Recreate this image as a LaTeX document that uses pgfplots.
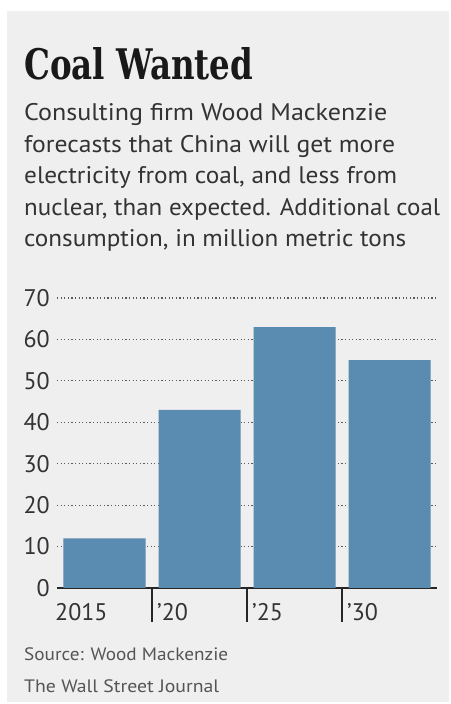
\documentclass[border=0pt]{standalone}
\usepackage{pgfplots}
\pgfplotsset{compat=1.18}
\usepackage{fontspec}
\setmainfont{PT Sans}
\newfontfamily\titlefont{DejaVu Serif}
\definecolor{panel}{HTML}{EFEFEF}
\definecolor{barblue}{HTML}{5A8BB0}
\definecolor{txt}{HTML}{333333}
\definecolor{srctxt}{HTML}{555555}
\begin{document}
\begin{tikzpicture}[x=1pt,y=1pt]
\fill[white] (0,0) rectangle (450,704);
\fill[panel] (7,2) rectangle (449,693);
% title
\node[anchor=base west, inner sep=0pt, text=black!90] at (24,624)
  {\resizebox{229pt}{32pt}{\titlefont\bfseries Coal Wanted}};
% subtitle
\begin{scope}[every node/.style={anchor=base west, inner sep=0pt, text=txt, font=\fontsize{24}{28}\selectfont}]
\node at (24,704-120.7) {\resizebox{363pt}{\height}{Consulting firm Wood Mackenzie}};
\node at (24,704-152.2) {\resizebox{371pt}{\height}{forecasts that China will get more}};
\node at (24,704-183.7) {\resizebox{373pt}{\height}{electricity from coal, and less from}};
\node at (24,704-215.2) {\resizebox{416pt}{\height}{nuclear, than expected. Additional coal}};
\node at (24,704-246.7) {\resizebox{382pt}{\height}{consumption, in million metric tons}};
\end{scope}
% source
\begin{scope}[every node/.style={anchor=base west, inner sep=0pt, text=srctxt, font=\fontsize{18}{22}\selectfont}]
\node at (24,704-661) {\resizebox{204pt}{\height}{Source: Wood Mackenzie}};
\node at (24,704-693) {\resizebox{195pt}{\height}{The Wall Street Journal}};
\end{scope}
\begin{axis}[
  at={(57pt,116pt)}, anchor=south west,
  scale only axis, width=380pt, height=290pt,
  xmin=0, xmax=4, ymin=0, ymax=70,
  axis lines*=left,
  y axis line style={draw=none},
  x axis line style={draw=black!85, line width=1.4pt},
  ytick={0,10,...,70},
  ytick style={draw=none},
  ymajorgrids,
  major grid style={gray!70!black, line width=1.2pt, dash pattern=on 1.2pt off 2.4pt},
  yticklabel style={anchor=east, inner sep=0pt, xshift=27pt, text=txt, font=\fontsize{24}{28}\selectfont},
  xtick={1,2,3}, xticklabels={},
  xtick style={draw=black!85, line width=1.4pt},
  tick align=outside,
  major tick length=34pt,
  extra x ticks={0,1,2,3},
  extra x tick labels={\hspace*{-7pt}2015,'20,'25,'30},
  extra x tick style={major tick length=0pt, xmajorgrids=false,
    xticklabel style={anchor=north west, inner sep=0pt, xshift=5pt, yshift=-15pt, text=txt, font=\fontsize{24}{28}\selectfont}},
  /pgf/number format/assume math mode=true,
  clip=false,
]
\addplot[ybar, bar width=82pt, fill=barblue, draw=none] coordinates {(0.5,12) (1.5,43) (2.5,63) (3.5,55)};
\end{axis}
\end{tikzpicture}
\end{document}
